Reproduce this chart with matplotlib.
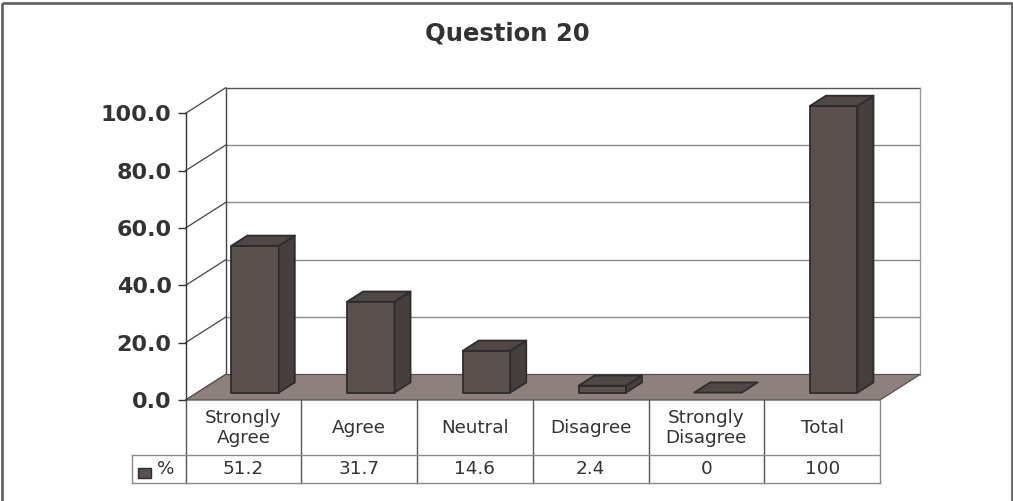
import matplotlib
matplotlib.use("Agg")
import matplotlib.pyplot as plt
from matplotlib.patches import Polygon, Rectangle
from matplotlib.transforms import Affine2D, IdentityTransform
from matplotlib.ticker import FormatStrFormatter

# ---- data -------------------------------------------------------------
categories = ["Strongly\nAgree", "Agree", "Neutral", "Disagree",
              "Strongly\nDisagree", "Total"]
percent = [51.2, 31.7, 14.6, 2.4, 0, 100]
series_name = "%"
title = "Question 20"
y_ticks = [0, 20, 40, 60, 80, 100]

# ---- styling ----------------------------------------------------------
W, H = 1013, 501
DPI = 100
FRONT = "#5a514e"
SIDE = "#463f3d"
TOP = "#4f4845"
EDGE = "#2e2c2c"
FLOOR = "#8e807c"
TEXT = "#333333"
DX, DY = 40.0, 25.5          # depth offset of the 3D box, in pixels
BAR_W = 0.41                 # bar width as a fraction of a category
D0, D1 = 0.29, 0.69          # bar depth span (front .. back) in box depth

plt.rcParams["font.family"] = ["DejaVu Sans"]

fig = plt.figure(figsize=(W / DPI, H / DPI), dpi=DPI)
fig.patch.set_facecolor("white")

# front plane of the plot box
left_px, right_px, top_px, bot_px = 185.6, 880.0, 113.3, 400.0
ax = fig.add_axes([left_px / W, (H - bot_px) / H,
                   (right_px - left_px) / W, (bot_px - top_px) / H])
ax.set_xlim(0, len(categories))
ax.set_ylim(0, 100)
ax.patch.set_visible(False)
for s in ("top", "right", "bottom"):
    ax.spines[s].set_visible(False)
ax.spines["left"].set_color(TEXT)
ax.spines["left"].set_linewidth(1.0)
ax.set_xticks([])
ax.set_yticks(y_ticks)
ax.yaxis.set_major_formatter(FormatStrFormatter("%.1f"))
ax.tick_params(axis="y", direction="out", length=5.5, width=1.0,
               color=TEXT, pad=4.6, labelsize=16, labelcolor=TEXT)
for lab in ax.get_yticklabels():
    lab.set_fontweight("bold")

# figure pixels measured from the top-left corner -> display coords
px = Affine2D().scale(1, -1).translate(0, H)
ident = IdentityTransform()


def P(x, v, d):
    """Project a (category x, value, depth) point to display pixels."""
    X, Y = ax.transData.transform((x, v))
    return (X + d * DX, Y + d * DY)


def poly(points, fc, ec, lw=1.0, z=1):
    ax.add_patch(Polygon(points, closed=True, facecolor=fc, edgecolor=ec,
                         linewidth=lw, transform=ident, clip_on=False,
                         zorder=z, joinstyle="round"))


def line(p, q, color, lw=0.9, z=1):
    ax.add_line(plt.Line2D([p[0], q[0]], [p[1], q[1]], color=color,
                           linewidth=lw, transform=ident, clip_on=False,
                           zorder=z))


n = len(categories)

# back wall gridlines and outline
for t in y_ticks[1:-1]:
    line(P(0, t, 1), P(n, t, 1), "#8a8a8a", 1.0, z=0.5)
line(P(0, 100, 1), P(n, 100, 1), "#555555", 1.0, z=0.6)
line(P(n, 0, 1), P(n, 100, 1), "#9a9a9a", 1.0, z=0.6)
line(P(0, 0, 1), P(0, 100, 1), "#444444", 1.0, z=0.6)
# side wall gridlines
for t in y_ticks:
    line(P(0, t, 0), P(0, t, 1), "#444444", 0.9, z=0.6)

# floor
poly([P(0, 0, 0), P(n, 0, 0), P(n, 0, 1), P(0, 0, 1)],
     FLOOR, "#555050", 0.9, z=0.7)

# bars
for i, v in enumerate(percent):
    a, b = i + 0.5 - BAR_W / 2, i + 0.5 + BAR_W / 2
    if v > 0:
        poly([P(a, 0, D0), P(b, 0, D0), P(b, v, D0), P(a, v, D0)],
             FRONT, EDGE, 1.3, z=2)
        poly([P(b, 0, D0), P(b, 0, D1), P(b, v, D1), P(b, v, D0)],
             SIDE, EDGE, 1.3, z=2)
    poly([P(a, v, D0), P(b, v, D0), P(b, v, D1), P(a, v, D1)],
         TOP, EDGE, 1.3, z=2)

# ---- data table -------------------------------------------------------
xs = [ax.transData.transform((k, 0))[0] for k in range(n + 1)]
row_top, row_mid, row_bot = 400.0, 454.5, 483.3
key_left = 131.7

def seg(x0, y0, x1, y1, color, lw=1.0):
    fig.add_artist(plt.Line2D([x0, x1], [y0, y1], color=color, linewidth=lw,
                              transform=px))

for k, x in enumerate(xs):
    seg(x, row_top, x, row_bot, "#555555" if k < n else "#8a8a8a")
seg(xs[0], row_mid, xs[-1], row_mid, "#8a8a8a")
seg(key_left, row_bot, xs[-1], row_bot, "#8a8a8a")
seg(key_left, row_mid, xs[0], row_mid, "#8a8a8a")
seg(key_left, row_mid, key_left, row_bot, "#8a8a8a")

for k, (cat, v) in enumerate(zip(categories, percent)):
    cx = (xs[k] + xs[k + 1]) / 2
    fig.text(cx, (row_top + row_mid) / 2 + 1, cat, transform=px,
             ha="center", va="center", fontsize=13.2, color=TEXT,
             linespacing=1.15)
    fig.text(cx, (row_mid + row_bot) / 2 + 0.5, f"{v:g}", transform=px,
             ha="center", va="center", fontsize=13.2, color=TEXT)

# legend key
fig.add_artist(Rectangle((138, 468), 13, 10, facecolor=FRONT,
                         edgecolor=EDGE, linewidth=1.0, transform=px))
fig.text(157, (row_mid + row_bot) / 2 + 0.5, series_name, transform=px,
         ha="left", va="center", fontsize=13.2, color=TEXT)

# title
fig.text(507.5, 34, title, transform=px, ha="center", va="center",
         fontsize=17.5, fontweight="bold", color=TEXT)

# chart area border
fig.add_artist(Rectangle((1.5, 2.5), W - 3, H + 5, facecolor="none",
                         edgecolor="#666666", linewidth=2.0, transform=px))

fig.savefig("out.png", dpi=DPI, facecolor="white")
